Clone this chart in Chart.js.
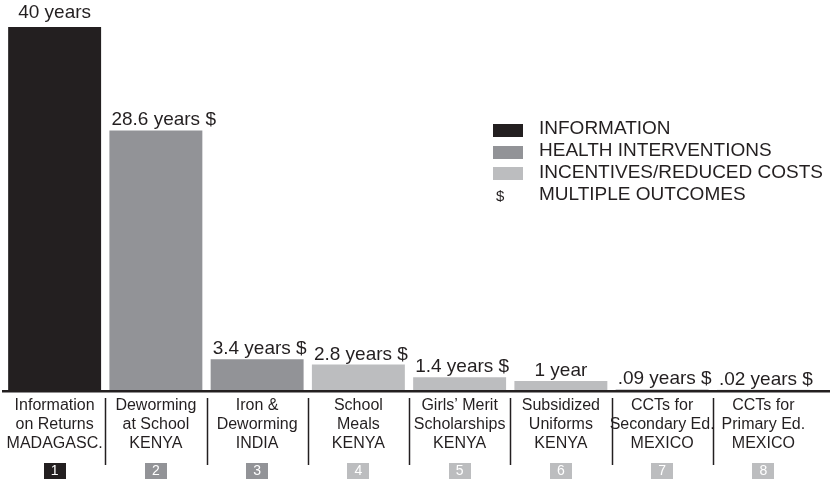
<!DOCTYPE html>
<html>
<head>
<meta charset="utf-8">
<script src="https://cdn.jsdelivr.net/npm/chart.js@4.4.1/dist/chart.umd.min.js"></script>
<style>
  html, body { margin: 0; padding: 0; background: #fff; }
  #wrap { width: 830px; height: 484px; }
</style>
</head>
<body>
<div id="wrap"><canvas id="yearsChart"></canvas></div>
<script>
/* ==========================
   DATA
========================== */

const programs = [
    ["Information", "on Returns", "MADAGASC."],
    ["Deworming", "at School", "KENYA"],
    ["Iron &", "Deworming", "INDIA"],
    ["School", "Meals", "KENYA"],
    ["Girls\u2019 Merit", "Scholarships", "KENYA"],
    ["Subsidized", "Uniforms", "KENYA"],
    ["CCTs for", "Secondary Ed.", "MEXICO"],
    ["CCTs for", "Primary Ed.", "MEXICO"]
];

const extraYears = [40, 28.6, 3.4, 2.8, 1.4, 1, 0.09, 0.02];

const valueLabels = [
    "40 years", "28.6 years $", "3.4 years $", "2.8 years $",
    "1.4 years $", "1 year", ".09 years $", ".02 years $"
];

// 0 = information, 1 = health, 2 = incentives
const programType = [0, 1, 1, 2, 2, 2, 2, 2];

const typeNames = ["INFORMATION", "HEALTH INTERVENTIONS", "INCENTIVES/REDUCED COSTS"];
const multipleName = "MULTIPLE OUTCOMES";

/* ==========================
   STYLE
========================== */

const typeColors = ["#231f20", "#929397", "#bcbdbf"];
const ink = "#231f20";
const FONT = "'Liberation Sans', Arial, Helvetica, sans-serif";

/* ==========================
   EXTRAS PLUGIN
========================== */

const extras = {
    id: "extras",
    afterDatasetsDraw(chart) {
        const ctx = chart.ctx;
        const x = chart.scales.x;
        const meta = chart.getDatasetMeta(0);
        const base = chart.chartArea.bottom;

        ctx.save();

        // value labels
        ctx.font = "19px " + FONT;
        ctx.fillStyle = ink;
        ctx.textBaseline = "alphabetic";
        ctx.textAlign = "left";
        meta.data.forEach((bar, i) => {
            const txt = valueLabels[i];
            const w = ctx.measureText(txt).width;
            const left = bar.x - bar.width / 2;
            let tx = bar.x - w / 2;
            if (w > bar.width - 4) tx = left + 2;
            const gap = i === 0 ? 9 : 5;
            ctx.fillText(txt, tx, bar.y - gap);
        });

        // baseline
        ctx.strokeStyle = ink;
        ctx.lineWidth = 2.5;
        ctx.beginPath();
        ctx.moveTo(2, base + 1.2);
        ctx.lineTo(chart.width, base + 1.2);
        ctx.stroke();

        // separators
        ctx.lineWidth = 1.5;
        for (let i = 0; i < programs.length - 1; i++) {
            const sx = Math.round((x.getPixelForValue(i) + x.getPixelForValue(i + 1)) / 2) + 0.5;
            ctx.beginPath();
            ctx.moveTo(sx, base + 8);
            ctx.lineTo(sx, base + 75);
            ctx.stroke();
        }

        // number boxes
        ctx.font = "14px " + FONT;
        ctx.textAlign = "center";
        ctx.textBaseline = "middle";
        programs.forEach((p, i) => {
            const cx = x.getPixelForValue(i);
            ctx.fillStyle = typeColors[programType[i]];
            ctx.fillRect(Math.round(cx - 11), base + 73, 22, 16);
            ctx.fillStyle = "#ffffff";
            ctx.fillText(String(i + 1), cx, base + 81.5);
        });

        // legend
        const lx = 493, tx = 539;
        ctx.textAlign = "left";
        ctx.textBaseline = "alphabetic";
        ctx.font = "19px " + FONT;
        typeNames.forEach((name, i) => {
            const ty = 134 + i * 22;
            ctx.fillStyle = typeColors[i];
            ctx.fillRect(lx, ty - 10 + (i === 2 ? -1 : 0), 30, 13);
            ctx.fillStyle = ink;
            ctx.fillText(name, tx, ty);
        });
        ctx.fillText(multipleName, tx, 200);
        ctx.font = "15px " + FONT;
        ctx.fillText("$", 496, 201);

        ctx.restore();
    }
};

/* ==========================
   CHART
========================== */

new Chart(document.getElementById("yearsChart"), {

    type: "bar",

    data: {
        labels: programs,
        datasets: [{
            data: extraYears,
            backgroundColor: programType.map(t => typeColors[t]),
            borderWidth: 0,
            categoryPercentage: 1,
            barPercentage: 0.918
        }]
    },

    options: {
        responsive: true,
        maintainAspectRatio: false,
        animation: false,
        layout: {
            padding: { left: 4, right: 16, top: 27, bottom: 0 }
        },
        plugins: {
            legend: { display: false },
            tooltip: { enabled: false }
        },
        scales: {
            x: {
                grid: { display: false },
                border: { display: false },
                afterFit(scale) { scale.height = 94; },
                ticks: {
                    autoSkip: false,
                    maxRotation: 0,
                    padding: -2,
                    color: ink,
                    font: { family: FONT, size: 16, lineHeight: 1.19 }
                }
            },
            y: {
                display: false,
                min: 0,
                max: 40
            }
        }
    },

    plugins: [extras]

});
</script>
</body>
</html>
